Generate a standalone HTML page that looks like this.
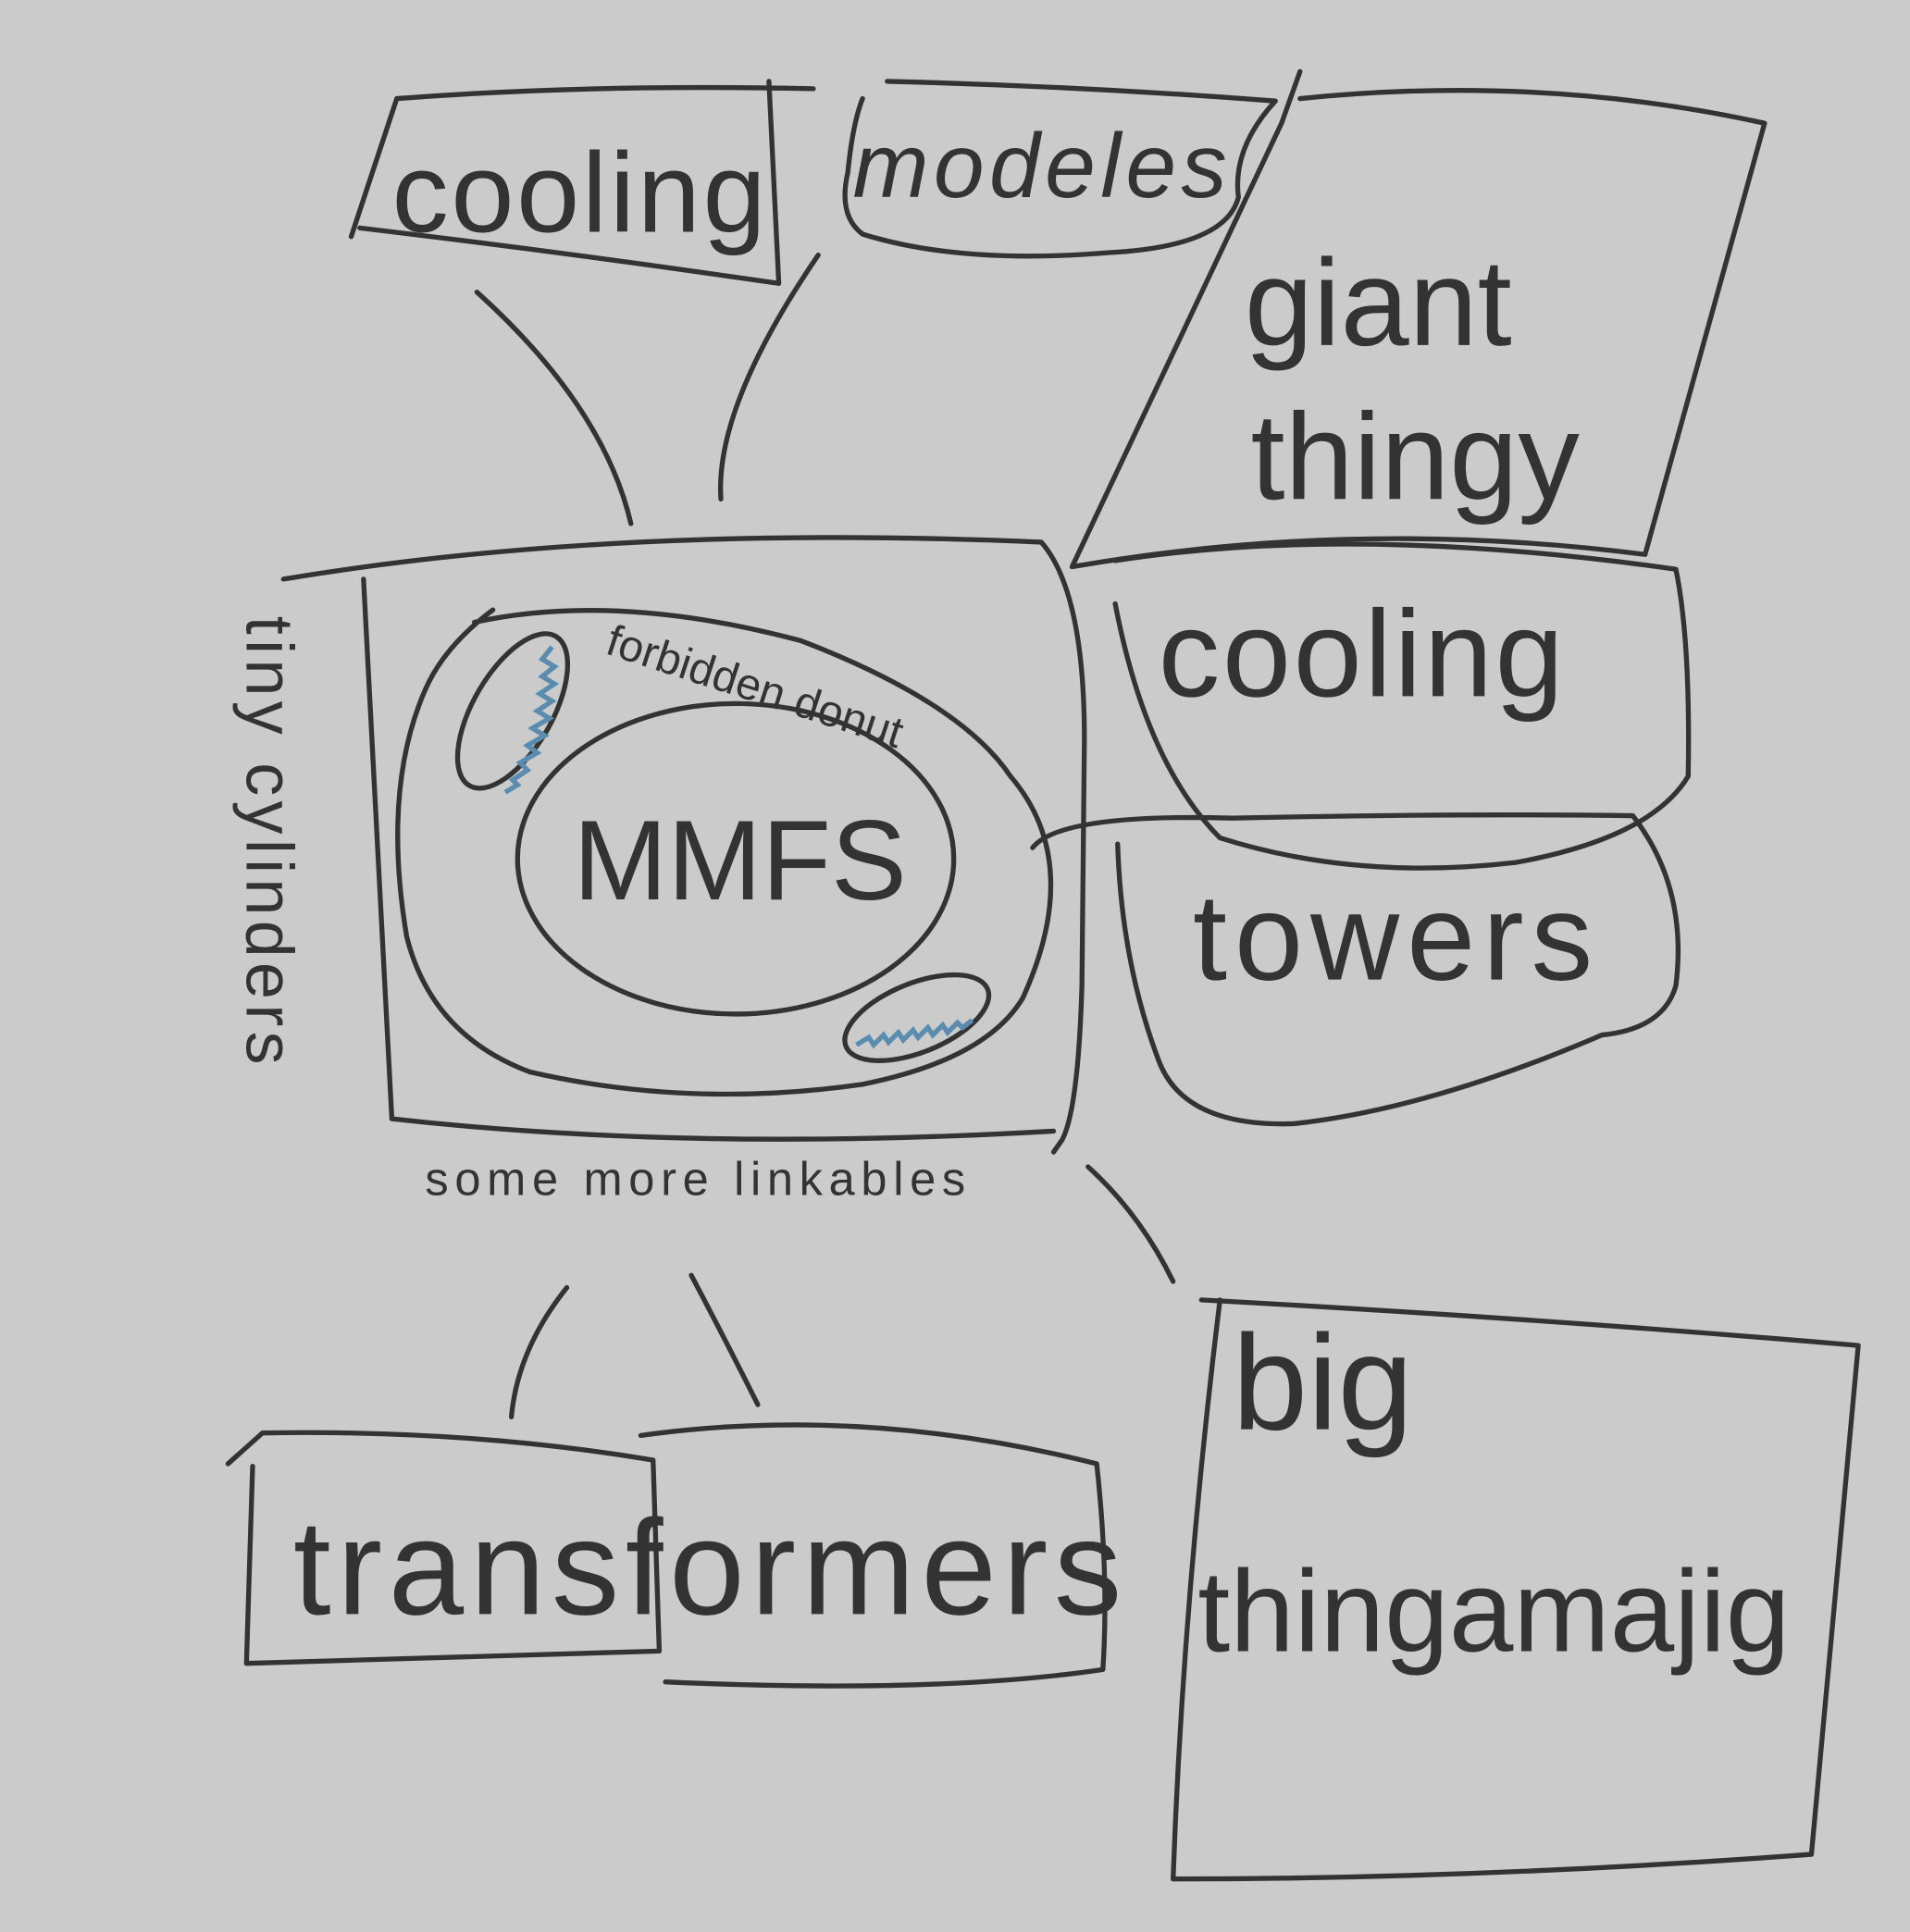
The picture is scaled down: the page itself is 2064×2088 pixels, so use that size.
<!DOCTYPE html>
<html><head><meta charset="utf-8"><style>
html,body{margin:0;padding:0;background:#cbcbcb;}
svg{display:block;}
text{font-family:"Liberation Sans",sans-serif;fill:#333;}
</style></head><body>
<svg width="2064" height="2088" viewBox="0 0 1550 1568" xmlns="http://www.w3.org/2000/svg">
<rect width="1550" height="1568" fill="#cbcbcb"/>
<g fill="none" stroke="#333" stroke-width="4" stroke-linecap="round" stroke-linejoin="round">
<path d="M285,192 L322,80 Q480,68 660,72 M624,66 L632,230 Q460,205 292,185"/>
<path d="M720,66 Q880,70 1035,82 Q1000,120 1005,160 Q995,200 900,205 Q780,215 700,190 Q680,175 688,140 Q692,100 700,80"/>
<path d="M1055,58 L1040,100 L870,460 Q1100,420 1335,450 L1432,100 Q1250,60 1055,80"/>
<path d="M387,237 Q490,330 512,425"/>
<path d="M664,207 Q580,330 585,405"/>
<path d="M230,470 Q500,425 845,440 Q880,480 880,600 L878,800 Q875,900 862,925 L855,935"/>
<path d="M295,470 L318,908 Q560,935 855,918"/>
<path d="M385,505 Q500,480 650,520 Q780,570 820,630 Q880,700 830,810 Q800,860 700,880 Q560,900 430,870 Q350,840 330,760 Q310,640 345,560 Q360,525 400,495"/>
<ellipse cx="597" cy="697" rx="177" ry="126"/>
<ellipse cx="416" cy="577" rx="32" ry="70" transform="rotate(30 416 577)"/>
<ellipse cx="744" cy="826" rx="62" ry="28" transform="rotate(-22 744 826)"/>
<path d="M905,455 Q1100,425 1360,462 Q1372,520 1370,630 Q1340,680 1230,700 Q1100,715 990,680 Q930,620 905,490"/>
<path d="M838,688 Q860,660 1000,664 Q1180,660 1325,662 Q1370,720 1360,800 Q1350,835 1300,840 Q1160,900 1050,912 Q960,915 940,860 Q910,780 907,685"/>
<path d="M883,947 Q925,985 952,1040"/>
<path d="M975,1055 Q1250,1070 1508,1092 L1470,1505 Q1200,1525 952,1525 Q960,1300 990,1055"/>
<path d="M460,1045 Q420,1095 415,1150"/>
<path d="M561,1035 Q590,1090 615,1140"/>
<path d="M185,1188 L213,1163 Q380,1160 530,1185 L535,1340 Q380,1345 200,1350 L205,1190"/>
<path d="M520,1165 Q700,1140 890,1188 Q900,1280 895,1355 Q760,1375 540,1365"/>
</g>
<g fill="none" stroke="#5a8cb0" stroke-width="4">
<path d="M448,525 l-8,10 l10,6 l-10,8 l10,6 l-12,8 l10,6 l-12,8 l10,6 l-14,8 l10,6 l-14,8 l8,6 l-14,8 l6,6 l-12,8 l4,4 l-10,6"/>
<path d="M695,848 l10,-6 l4,6 l8,-8 l4,6 l8,-8 l4,6 l8,-8 l4,6 l8,-8 l4,6 l8,-8 l4,6 l8,-8 l4,4 l8,-6"/>
</g>
<text x="318" y="188" font-size="92" letter-spacing="2">cooling</text>
<text x="692" y="160" font-size="74" font-style="italic" letter-spacing="4">modeles</text>
<text x="1010" y="280" font-size="100">giant</text>
<text x="1015" y="405" font-size="100">thingy</text>
<text x="465" y="730" font-size="92">MMFS</text>
<text x="490" y="530" font-size="36" transform="rotate(18 490 530)">forbidden donut</text>
<text x="200" y="500" font-size="54" letter-spacing="4" transform="rotate(90 200 500)">tiny cylinders</text>
<text x="345" y="970" font-size="38" letter-spacing="5">some more linkables</text>
<text x="940" y="565" font-size="100" letter-spacing="2">cooling</text>
<text x="968" y="795" font-size="100" letter-spacing="6">towers</text>
<text x="1000" y="1160" font-size="110">big</text>
<text x="972" y="1340" font-size="94">thingamajig</text>
<text x="238" y="1310" font-size="110" letter-spacing="5">transformers</text>
</svg>
</body></html>
